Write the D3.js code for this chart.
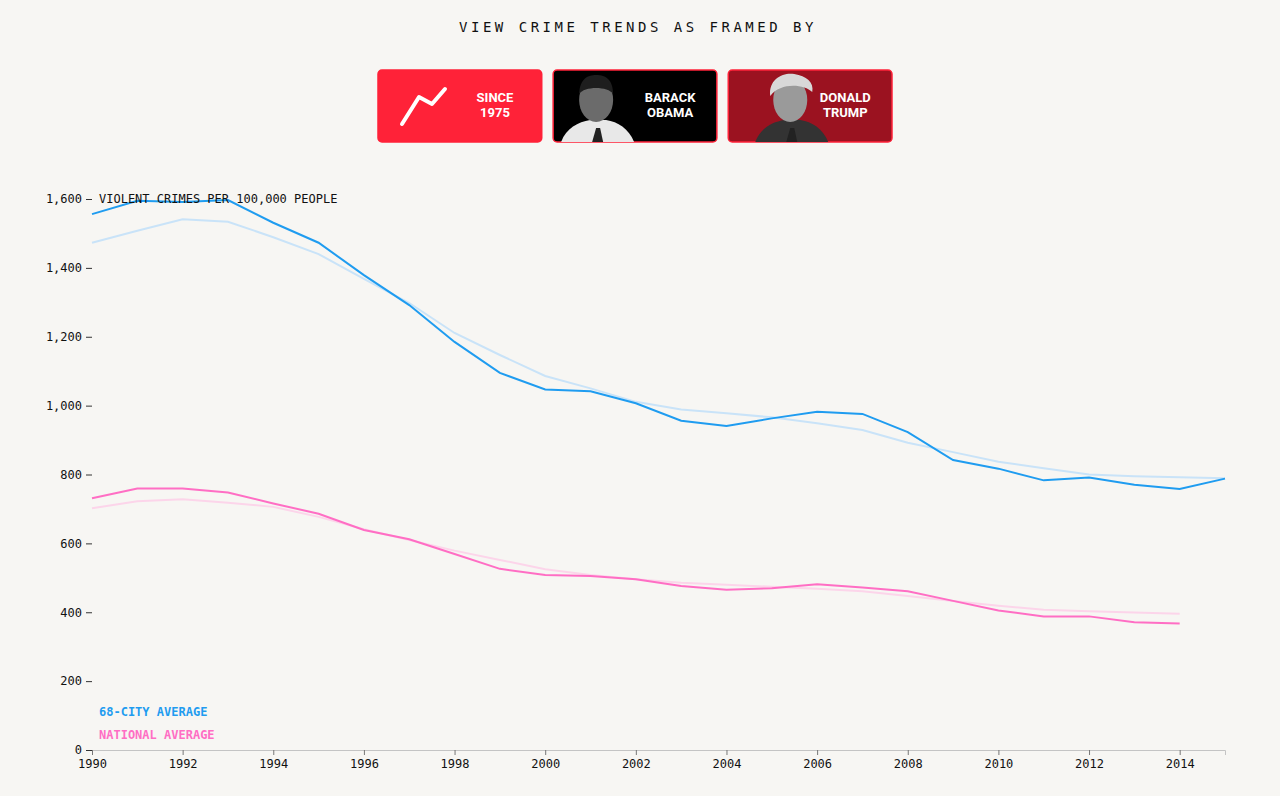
<!DOCTYPE html>
<html>
<head>
<meta charset="utf-8">
<script src="https://cdn.jsdelivr.net/npm/d3@7"></script>
<style>
  body { margin: 0; background: #f7f6f3; }
  svg { display: block; }
</style>
</head>
<body>
<div id="chart-area"></div>
<script>
// data
const years = d3.range(1990, 2016)
const cityAvg = [1556, 1595, 1591, 1597, 1531, 1473, 1379, 1292, 1185, 1095, 1047, 1042, 1007, 956, 941, 963, 982, 976, 923, 842, 817, 783, 791, 770, 758, 788]
const cityTrend = [1473, 1508, 1541, 1534, 1489, 1440, 1368, 1298, 1211, 1147, 1086, 1050, 1011, 989, 978, 966, 949, 929, 892, 865, 837, 818, 800, 795, 792, 789]
const nationalAvg = [731, 759, 759, 748, 716, 686, 639, 612, 569, 526, 508, 505, 496, 476, 465, 470, 481, 472, 461, 433, 405, 388, 388, 371, 367]
const nationalTrend = [702, 722, 728, 718, 706, 677, 641, 610, 579, 552, 525, 508, 496, 486, 480, 474, 468, 461, 447, 433, 419, 407, 403, 399, 396]
const yTicks = [0, 200, 400, 600, 800, 1000, 1200, 1400, 1600]
const xTicks = d3.range(1990, 2015, 2)
const buttons = [
  {label: ["SINCE", "1975"], fill: "#ff2238", kind: "icon"},
  {label: ["BARACK", "OBAMA"], fill: "#000000", kind: "obama"},
  {label: ["DONALD", "TRUMP"], fill: "#9b1220", kind: "trump"}
]

const W = 1280, H = 796
const mono = "'DejaVu Sans Mono', 'Liberation Mono', monospace"

const svg = d3.select("#chart-area").append("svg")
    .attr("width", W)
    .attr("height", H)

// title
svg.append("text")
    .attr("x", 638).attr("y", 32)
    .attr("text-anchor", "middle")
    .attr("font-family", mono)
    .attr("font-size", 14)
    .attr("letter-spacing", 3.5)
    .attr("fill", "#111")
    .text("VIEW CRIME TRENDS AS FRAMED BY")

// buttons
const bx = d3.scaleBand().domain(d3.range(buttons.length)).range([378, 892]).paddingInner(0.065)
const btn = svg.selectAll("g.btn").data(buttons).enter().append("g")
    .attr("class", "btn")
    .attr("transform", (d, i) => `translate(${bx(i)},70)`)

btn.append("rect")
    .attr("width", bx.bandwidth()).attr("height", 72)
    .attr("rx", 4)
    .attr("fill", d => d.fill)
    .attr("stroke", "#ff2238")
    .attr("stroke-width", 1.5)

// chart-ish icon on the first button
btn.filter(d => d.kind == "icon").append("path")
    .attr("d", "M24,54 L41,27 L54,34 L67,19")
    .attr("fill", "none").attr("stroke", "#fff")
    .attr("stroke-width", 4).attr("stroke-linecap", "round").attr("stroke-linejoin", "round")

// rough grey portraits
const portrait = btn.filter(d => d.kind != "icon").append("g")
    .attr("transform", d => d.kind == "obama" ? "translate(43,0)" : "translate(62,0)")
portrait.append("path")
    .attr("d", "M-35,72 C-30,58 -18,52 -6,50 L10,50 C22,52 32,58 38,72 Z")
    .attr("fill", d => d.kind == "obama" ? "#e8e8e8" : "#333")
portrait.append("path")
    .attr("d", "M-4,72 L0,58 L4,58 L7,72 Z")
    .attr("fill", "#222")
portrait.append("ellipse")
    .attr("cx", 0).attr("cy", 30).attr("rx", 17).attr("ry", 22)
    .attr("fill", d => d.kind == "obama" ? "#6b6b6b" : "#9a9a9a")
portrait.append("path")
    .attr("d", d => d.kind == "obama"
        ? "M-17,24 C-16,8 -8,5 0,5 C10,5 17,10 17,24 C12,16 -12,16 -17,24 Z"
        : "M-20,26 C-22,8 -6,2 4,4 C16,6 24,12 22,22 C14,14 -10,12 -20,26 Z")
    .attr("fill", d => d.kind == "obama" ? "#1e1e1e" : "#d8d8d8")

btn.append("text")
    .attr("x", 117).attr("y", 32)
    .attr("text-anchor", "middle")
    .attr("font-family", "'Liberation Sans Narrow', 'Roboto', sans-serif")
    .attr("font-weight", "bold")
    .attr("font-size", 13)
    .attr("fill", "#fff")
    .selectAll("tspan").data(d => d.label).enter().append("tspan")
    .attr("x", 117)
    .attr("dy", (d, i) => i == 0 ? 0 : 15)
    .text(d => d)

// scales
const x = d3.scaleLinear().domain([1990, 2015]).range([92, 1225])
const y = d3.scaleLinear().domain([0, 1600]).range([750, 199])

// x axis
const xAxis = svg.append("g")
    .attr("transform", "translate(0,750)")
    .call(d3.axisBottom(x).tickValues(xTicks).tickFormat(d3.format("d")).tickSize(5).tickSizeOuter(5).tickPadding(4))
xAxis.select(".domain").attr("stroke", "#c4c4c4")
xAxis.selectAll(".tick line").attr("stroke", "#777")
xAxis.selectAll("text").attr("font-family", mono).attr("font-size", 12).attr("fill", "#111")

// y axis
const yAxis = svg.append("g")
    .attr("transform", "translate(92,0)")
    .call(d3.axisLeft(y).tickValues(yTicks).tickFormat(d3.format(",")).tickSize(6).tickPadding(4))
yAxis.select(".domain").remove()
yAxis.selectAll(".tick line").attr("stroke", "#333")
yAxis.selectAll("text").attr("font-family", mono).attr("font-size", 12).attr("fill", "#111")

// lines
const line = d3.line().x((d, i) => x(years[i])).y(d => y(d))
const series = [
  {vals: cityTrend, color: "#c9e3f8"},
  {vals: nationalTrend, color: "#fcd5ea"},
  {vals: cityAvg, color: "#1f9cf0"},
  {vals: nationalAvg, color: "#ff6ec4"}
]
svg.selectAll("path.series").data(series).enter().append("path")
    .attr("class", "series")
    .attr("d", d => line(d.vals))
    .attr("fill", "none")
    .attr("stroke", d => d.color)
    .attr("stroke-width", 2)

// labels
svg.append("text")
    .attr("x", 99).attr("y", 203)
    .attr("font-family", mono).attr("font-size", 12).attr("fill", "#111")
    .text("VIOLENT CRIMES PER 100,000 PEOPLE")

const legend = [
  {name: "68-CITY AVERAGE", color: "#1f9cf0"},
  {name: "NATIONAL AVERAGE", color: "#ff6ec4"}
]
svg.selectAll("text.legend").data(legend).enter().append("text")
    .attr("class", "legend")
    .attr("x", 99)
    .attr("y", (d, i) => 716 + i * 23)
    .attr("font-family", mono).attr("font-size", 12).attr("font-weight", "bold")
    .attr("fill", d => d.color)
    .text(d => d.name)
</script>
</body>
</html>
